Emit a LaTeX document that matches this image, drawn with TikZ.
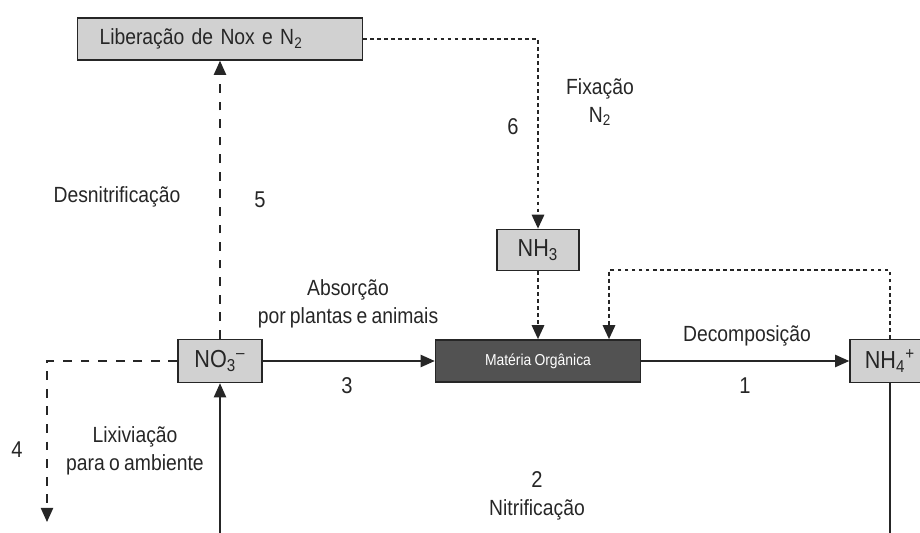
\documentclass[tikz,border=0pt]{standalone}
\usepackage{fontspec}
\setmainfont{Liberation Sans}[FakeStretch=0.88, WordSpace=0.8]
\usetikzlibrary{arrows.meta}
\begin{document}
\begin{tikzpicture}[x=0.02cm,y=-0.02cm]
\tikzstyle{every node}=[inner sep=0pt, text=black!85]
\tikzstyle{box}=[draw=black!85, line width=0.9pt, fill=black!18, minimum height=0.84cm, font=\fontsize{14}{16}\selectfont]
\tikzstyle{darkbox}=[box, fill=black!68, text=white, font=\fontsize{9}{10}\selectfont]
\tikzstyle{txt}=[font=\fontsize{12.5}{16}\selectfont, align=center]
\tikzstyle{num}=[font=\fontsize{13}{15}\selectfont]
\tikzstyle{flow}=[draw=black!85, line width=0.8pt, -{Triangle[length=8pt,width=7pt]}]
\tikzstyle{longdash}=[flow, dash pattern=on 5pt off 5pt]
\tikzstyle{shortdash}=[flow, line width=1.3pt, dash pattern=on 2.2pt off 1.8pt]
\useasboundingbox (0,0) rectangle (920,533);
\clip (0,0) rectangle (920,533);
\draw (220,39) node (lib) [box, text width=4.82cm, inner xsep=0.44cm, align=left, font=\fontsize{12.5}{14}\selectfont] {Liberação de Nox e N\textsubscript{2}};
\draw (538,250) node (nh3) [box, minimum width=1.64cm, minimum height=0.82cm] {NH\textsubscript{3}};
\draw (220,361) node (no3) [box, minimum width=1.68cm, minimum height=0.86cm] {NO\textsubscript{3}\textsuperscript{–}};
\draw (538,361) node (mat) [darkbox, minimum width=4.1cm] {Matéria Orgânica};
\draw (890,361) node (nh4) [box, minimum width=1.6cm, minimum height=0.86cm] {NH\textsubscript{4}\textsuperscript{+}};
\coordinate (leach) at (47,522);
\coordinate (loop) at (609,270);
\coordinate (under) at (220,560);
% connectors
\draw [flow] (no3) -- (mat);
\draw [flow] (mat) -- (nh4);
\draw [longdash] (no3) -- (lib);
\draw [longdash] (no3.west) -| (leach);
\draw [shortdash] (lib.east) -| (nh3.north);
\draw [shortdash] (nh3) -- (mat);
\draw [shortdash] (nh4.north) |- (loop) -- (loop |- mat.north);
\draw [flow] (nh4.south) |- (under) -- (no3.south);
% labels
\draw (600,102) node (fix) [txt] {Fixação\\N\textsubscript{2}};
\draw (513,127) node (n6) [num] {6};
\draw (117,197) node (den) [txt] {Desnitrificação};
\draw (260,200) node (n5) [num] {5};
\draw (348,304) node (abs) [txt] {Absorção\\por plantas e animais};
\draw (347,386) node (n3) [num] {3};
\draw (747,336) node (dec) [txt] {Decomposição};
\draw (745,386) node (n1) [num] {1};
\draw (17,450) node (n4) [num] {4};
\draw (135,451) node (lix) [txt] {Lixiviação\\para o ambiente};
\draw (537,496) node (nit) [txt] {{\fontsize{13}{15}\selectfont 2}\\Nitrificação};
\end{tikzpicture}
\end{document}
